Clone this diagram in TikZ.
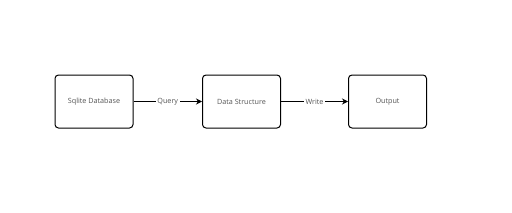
\documentclass[tikz,border=0pt]{standalone}
\usepackage{fontspec}
\setmainfont{Open Sans}
\usetikzlibrary{arrows.meta}
\definecolor{txt}{HTML}{555555}
\tikzset{
  box/.style={draw=black, line width=1pt, rounded corners=3.5pt, minimum width=78pt, minimum height=53pt, inner sep=0pt, font=\fontsize{7.2}{9}\selectfont, text=txt},
  conn/.style={draw=black, line width=1pt, -{Stealth[length=6pt,width=6pt]}},
  lbl/.style={fill=white, inner sep=1.5pt, font=\fontsize{7.2}{9}\selectfont, text=txt}
}
\begin{document}
\begin{tikzpicture}[x=1pt,y=-1pt]
\useasboundingbox[fill=white] (0,0) rectangle (512,212);
\node[box] (db) at (94,101.5) {Sqlite Database};
\node[box] (ds) at (241.5,101.5) {Data Structure};
\node[box] (out) at (387.5,101.5) {Output};
\draw[conn] (db) -- node[lbl] {Query} (ds);
\draw[conn] (ds) -- node[lbl] {Write} (out);
\end{tikzpicture}
\end{document}
